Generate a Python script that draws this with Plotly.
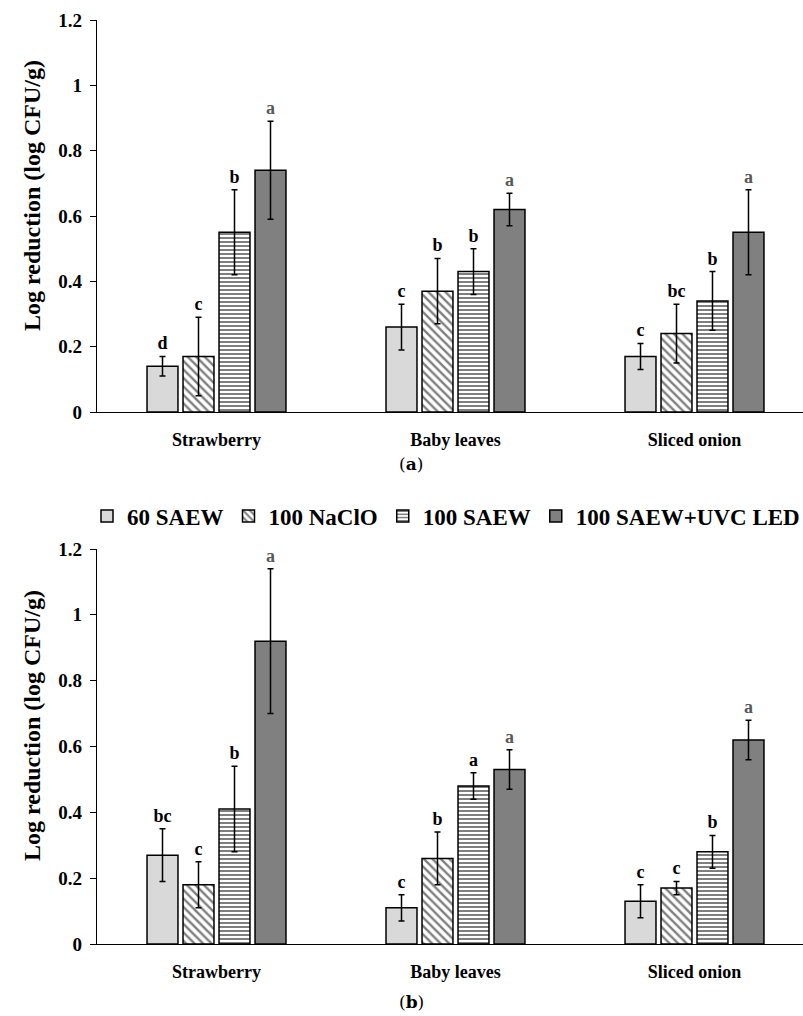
import plotly.graph_objects as go

categories = ["Strawberry", "Baby leaves", "Sliced onion"]
series = ["60 SAEW", "100 NaClO", "100 SAEW", "100 SAEW+UVC LED"]

# panel (a)
a_vals = [[0.14, 0.26, 0.17], [0.17, 0.37, 0.24], [0.55, 0.43, 0.34], [0.74, 0.62, 0.55]]
a_err = [[0.03, 0.07, 0.04], [0.12, 0.10, 0.09], [0.13, 0.07, 0.09], [0.15, 0.05, 0.13]]
a_let = [["d", "c", "c"], ["c", "b", "bc"], ["b", "b", "b"], ["a", "a", "a"]]

# panel (b)
b_vals = [[0.27, 0.11, 0.13], [0.18, 0.26, 0.17], [0.41, 0.48, 0.28], [0.92, 0.53, 0.62]]
b_err = [[0.08, 0.04, 0.05], [0.07, 0.08, 0.02], [0.13, 0.04, 0.05], [0.22, 0.06, 0.06]]
b_let = [["bc", "c", "c"], ["c", "b", "c"], ["b", "a", "b"], ["a", "a", "a"]]

y_ticks = [0, 0.2, 0.4, 0.6, 0.8, 1.0, 1.2]
y_ticktext = ["0", "0.2", "0.4", "0.6", "0.8", "1", "1.2"]

FONT = "Liberation Serif, Times New Roman, serif"
W, H = 803, 1016

styles = [
    dict(color="#d9d9d9"),
    dict(color="white", pattern=dict(shape="\\", fgcolor="black", bgcolor="white", size=6, solidity=0.4)),
    dict(color="white", pattern=dict(shape="-", fgcolor="black", bgcolor="white", size=4, solidity=0.5)),
    dict(color="#808080"),
]

fig = go.Figure()

def add_panel(vals, errs, lets, xa, ya, show):
    for i, name in enumerate(series):
        mk = dict(styles[i])
        mk["line"] = dict(color="black", width=1.5)
        fig.add_trace(go.Bar(
            x=categories, y=vals[i], name=name, marker=mk,
            error_y=dict(type="data", array=errs[i], color="black", thickness=1.5, width=3),
            xaxis=xa, yaxis=ya, showlegend=show, offsetgroup=str(i),
            textposition="none",
        ))
    # significance letters, placed just above each error bar
    for i in range(len(series)):
        tops = [v + e for v, e in zip(vals[i], errs[i])]
        fig.add_trace(go.Bar(
            x=categories, y=tops, marker=dict(color="rgba(0,0,0,0)", line=dict(width=0)),
            text=["<b>%s</b>" % t for t in lets[i]], textposition="outside", cliponaxis=False,
            textfont=dict(family=FONT, size=18, color="#595959" if i == 3 else "black"),
            xaxis=xa, yaxis=ya, showlegend=False, offsetgroup=str(i), hoverinfo="skip",
            base=0,
        ))

add_panel(a_vals, a_err, a_let, "x", "y", True)
add_panel(b_vals, b_err, b_let, "x2", "y2", False)

xdom = [97 / W, 1.0]
ydom_a = [1 - 412 / H, 1 - 20 / H]
ydom_b = [1 - 944 / H, 1 - 549 / H]

xcommon = dict(domain=xdom, range=[-0.5, 2.454], showline=True, linecolor="black", linewidth=1.2,
               ticks="", showgrid=False, zeroline=False, automargin=False,
               tickfont=dict(family=FONT, size=18, color="black", weight="bold"), ticklabelstandoff=11)
ycommon = dict(range=[0, 1.2], tickvals=y_ticks, ticktext=y_ticktext,
               showline=True, linecolor="black", linewidth=1.2, ticks="outside", ticklen=6,
               tickcolor="black", showgrid=False, zeroline=False, automargin=False,
               tickfont=dict(family=FONT, size=19, color="black", weight="bold"), ticklabelstandoff=4)

fig.update_layout(
    width=W, height=H, margin=dict(l=0, r=0, t=0, b=0, autoexpand=False),
    paper_bgcolor="white", plot_bgcolor="white",
    barmode="group", bargap=0.3975, bargroupgap=0.14,
    font=dict(family=FONT, color="black"),
    xaxis=dict(xcommon, anchor="y"),
    xaxis2=dict(xcommon, anchor="y2"),
    yaxis=dict(ycommon, domain=ydom_a, anchor="x"),
    yaxis2=dict(ycommon, domain=ydom_b, anchor="x2"),
    legend=dict(orientation="h", x=446 / W, y=1 - 516 / H, xanchor="center", yanchor="middle",
                font=dict(family=FONT, size=23, color="black", weight="bold"), itemwidth=30,
                tracegroupgap=0, bgcolor="rgba(0,0,0,0)"),
    annotations=[
        dict(text="<b>Log reduction (log CFU/g)</b>", x=32 / W, y=1 - 196 / H, xref="paper", yref="paper",
             xanchor="center", yanchor="middle",
             textangle=-90, showarrow=False, font=dict(family=FONT, size=24, color="black")),
        dict(text="<b>Log reduction (log CFU/g)</b>", x=32 / W, y=1 - 726 / H, xref="paper", yref="paper",
             xanchor="center", yanchor="middle",
             textangle=-90, showarrow=False, font=dict(family=FONT, size=24, color="black")),
        dict(text="(<b>a</b>)", x=411 / W, y=1 - 464 / H, xref="paper", yref="paper",
             xanchor="center", yanchor="middle",
             showarrow=False, font=dict(family="DejaVu Serif, serif", size=17, color="black")),
        dict(text="(<b>b</b>)", x=411 / W, y=1 - 1002 / H, xref="paper", yref="paper",
             xanchor="center", yanchor="middle",
             showarrow=False, font=dict(family="DejaVu Serif, serif", size=17, color="black")),
    ],
)

fig.write_html("out.html", config={"displayModeBar": False},
               post_script="document.body.style.margin='0';document.body.style.overflow='hidden';")
